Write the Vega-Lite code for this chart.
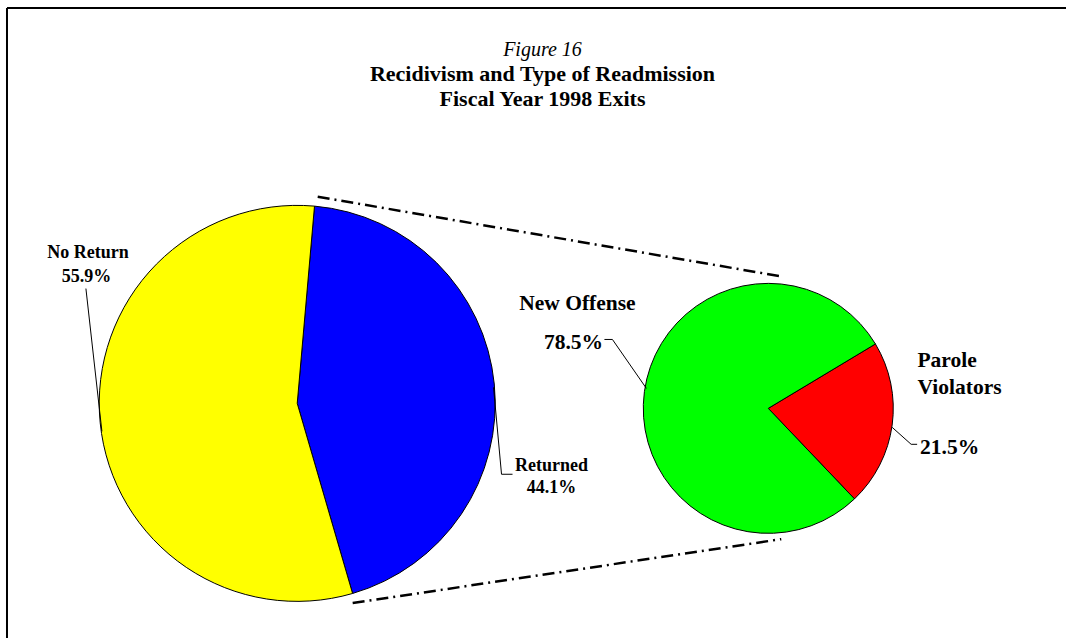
{
  "$schema": "https://vega.github.io/schema/vega-lite/v6.json",
  "width": 1067,
  "height": 639,
  "autosize": {"type": "fit", "contains": "padding"},
  "padding": 0,
  "background": "white",
  "config": {"view": {"stroke": null}, "font": "Liberation Serif"},
  "datasets": {
    "exits": [
      {"pie": "exits", "category": "Returned", "percent": 44.1, "rank": 1},
      {"pie": "exits", "category": "No Return", "percent": 55.9, "rank": 2}
    ],
    "readmissions": [
      {"pie": "readmissions", "category": "Parole Violators", "percent": 21.5, "rank": 1},
      {"pie": "readmissions", "category": "New Offense", "percent": 78.5, "rank": 2}
    ],
    "pieLayout": [
      {"pie": "exits", "cx": 29.75, "cy": 40.4},
      {"pie": "readmissions", "cx": 76.9, "cy": 40.9}
    ],
    "frame": [
      {"side": "top", "x": 0.7, "y": 0.8, "x2": 106.7, "y2": 0.8},
      {"side": "left", "x": 0.7, "y": 0.8, "x2": 0.7, "y2": 63.9}
    ],
    "connectors": [
      {"edge": "upper", "x": 31.8, "y": 19.7, "x2": 78.3, "y2": 27.7},
      {"edge": "lower", "x": 35.3, "y": 60.4, "x2": 78.2, "y2": 54.0}
    ],
    "leaders": [
      {"id": "No Return", "seq": 1, "x": 8.6, "y": 28.9},
      {"id": "No Return", "seq": 2, "x": 10.2, "y": 43.2},
      {"id": "Returned", "seq": 1, "x": 49.4, "y": 38.8},
      {"id": "Returned", "seq": 2, "x": 50.2, "y": 47.5},
      {"id": "Returned", "seq": 3, "x": 51.3, "y": 47.5},
      {"id": "New Offense", "seq": 1, "x": 60.5, "y": 34.0},
      {"id": "New Offense", "seq": 2, "x": 61.3, "y": 34.0},
      {"id": "New Offense", "seq": 3, "x": 64.7, "y": 38.9},
      {"id": "Parole Violators", "seq": 1, "x": 89.3, "y": 42.8},
      {"id": "Parole Violators", "seq": 2, "x": 91.2, "y": 44.5},
      {"id": "Parole Violators", "seq": 3, "x": 91.8, "y": 44.5}
    ],
    "labels": [
      {"role": "caption", "text": "Figure 16", "x": 54.3, "y": 5.6},
      {"role": "title", "text": "Recidivism and Type of Readmission", "x": 54.3, "y": 8.15},
      {"role": "title", "text": "Fiscal Year 1998 Exits", "x": 54.3, "y": 10.65},
      {"role": "exits", "text": "No Return", "x": 8.8, "y": 25.8},
      {"role": "exits", "text": "55.9%", "x": 8.65, "y": 28.2},
      {"role": "exits", "text": "Returned", "x": 55.2, "y": 47.15},
      {"role": "exits", "text": "44.1%", "x": 55.2, "y": 49.35},
      {"role": "readmissions", "text": "New Offense", "x": 57.8, "y": 31.0},
      {"role": "readmissions", "text": "78.5%", "x": 57.4, "y": 35.0},
      {"role": "readmissions", "text": "Parole", "x": 94.8, "y": 36.8},
      {"role": "readmissions", "text": "Violators", "x": 96.05, "y": 39.5},
      {"role": "readmissions", "text": "21.5%", "x": 95.05, "y": 45.5}
    ]
  },
  "resolve": {"scale": {"theta": "independent"}},
  "layer": [
    {
      "data": {"name": "frame"},
      "mark": {"type": "rule", "stroke": "black", "strokeWidth": 2},
      "encoding": {
        "x": {"field": "x", "type": "quantitative", "scale": {"domain": [0, 106.7], "nice": false, "zero": false}, "axis": null},
        "y": {"field": "y", "type": "quantitative", "scale": {"domain": [0, 63.9], "nice": false, "zero": false, "reverse": true}, "axis": null},
        "x2": {"field": "x2"},
        "y2": {"field": "y2"}
      }
    },
    {
      "data": {"name": "exits"},
      "transform": [{"lookup": "pie", "from": {"data": {"name": "pieLayout"}, "key": "pie", "fields": ["cx", "cy"]}}],
      "mark": {"type": "arc", "radius": 198, "stroke": "black", "strokeWidth": 1},
      "encoding": {
        "theta": {"field": "percent", "type": "quantitative", "stack": true, "scale": {"range": [0.0873, 6.3705]}},
        "order": {"field": "rank", "type": "quantitative"},
        "color": {"field": "category", "type": "nominal", "legend": null,
          "scale": {"domain": ["Returned", "No Return", "Parole Violators", "New Offense"], "range": ["#0000FF", "#FFFF00", "#FF0000", "#00FF00"]}},
        "x": {"field": "cx", "type": "quantitative", "axis": null},
        "y": {"field": "cy", "type": "quantitative", "axis": null}
      }
    },
    {
      "data": {"name": "readmissions"},
      "transform": [{"lookup": "pie", "from": {"data": {"name": "pieLayout"}, "key": "pie", "fields": ["cx", "cy"]}}],
      "mark": {"type": "arc", "radius": 125, "stroke": "black", "strokeWidth": 1},
      "encoding": {
        "theta": {"field": "percent", "type": "quantitative", "stack": true, "scale": {"range": [1.0297, 7.3129]}},
        "order": {"field": "rank", "type": "quantitative"},
        "color": {"field": "category", "type": "nominal", "legend": null,
          "scale": {"domain": ["Returned", "No Return", "Parole Violators", "New Offense"], "range": ["#0000FF", "#FFFF00", "#FF0000", "#00FF00"]}},
        "x": {"field": "cx", "type": "quantitative", "axis": null},
        "y": {"field": "cy", "type": "quantitative", "axis": null}
      }
    },
    {
      "data": {"name": "connectors"},
      "mark": {"type": "rule", "stroke": "black", "strokeWidth": 2.5, "strokeDash": [12, 5, 2, 5]},
      "encoding": {
        "x": {"field": "x", "type": "quantitative", "axis": null},
        "y": {"field": "y", "type": "quantitative", "axis": null},
        "x2": {"field": "x2"},
        "y2": {"field": "y2"}
      }
    },
    {
      "data": {"name": "leaders"},
      "mark": {"type": "line", "stroke": "black", "strokeWidth": 1},
      "encoding": {
        "x": {"field": "x", "type": "quantitative", "axis": null},
        "y": {"field": "y", "type": "quantitative", "axis": null},
        "detail": {"field": "id", "type": "nominal"},
        "order": {"field": "seq", "type": "quantitative"}
      }
    },
    {
      "data": {"name": "labels"},
      "transform": [{"filter": "datum.role === 'caption'"}],
      "mark": {"type": "text", "font": "Liberation Serif", "fontSize": 20, "fontStyle": "italic", "align": "center", "baseline": "alphabetic", "color": "black"},
      "encoding": {
        "x": {"field": "x", "type": "quantitative", "axis": null},
        "y": {"field": "y", "type": "quantitative", "axis": null},
        "text": {"field": "text"}
      }
    },
    {
      "data": {"name": "labels"},
      "transform": [{"filter": "datum.role === 'title'"}],
      "mark": {"type": "text", "font": "Liberation Serif", "fontSize": 22, "fontWeight": "bold", "align": "center", "baseline": "alphabetic", "color": "black"},
      "encoding": {
        "x": {"field": "x", "type": "quantitative", "axis": null},
        "y": {"field": "y", "type": "quantitative", "axis": null},
        "text": {"field": "text"}
      }
    },
    {
      "data": {"name": "labels"},
      "transform": [{"filter": "datum.role === 'exits'"}],
      "mark": {"type": "text", "font": "Liberation Serif", "fontSize": 18, "fontWeight": "bold", "align": "center", "baseline": "alphabetic", "color": "black"},
      "encoding": {
        "x": {"field": "x", "type": "quantitative", "axis": null},
        "y": {"field": "y", "type": "quantitative", "axis": null},
        "text": {"field": "text"}
      }
    },
    {
      "data": {"name": "labels"},
      "transform": [{"filter": "datum.role === 'readmissions'"}],
      "mark": {"type": "text", "font": "Liberation Serif", "fontSize": 21.5, "fontWeight": "bold", "align": "center", "baseline": "alphabetic", "color": "black"},
      "encoding": {
        "x": {"field": "x", "type": "quantitative", "axis": null},
        "y": {"field": "y", "type": "quantitative", "axis": null},
        "text": {"field": "text"}
      }
    }
  ]
}
